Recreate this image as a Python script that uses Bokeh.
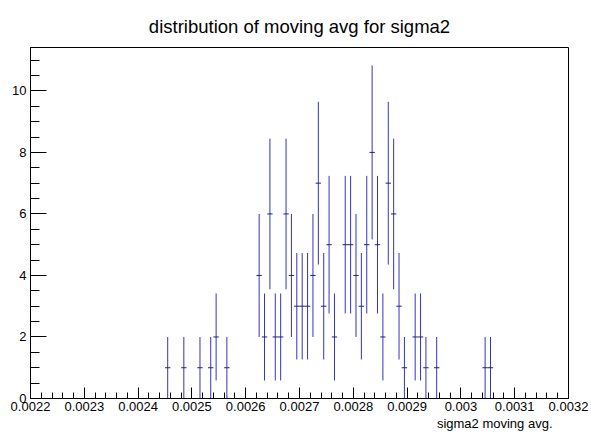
from bokeh.plotting import figure
from bokeh.models import FixedTicker, Title, Range1d, ColumnDataSource
from bokeh.embed import file_html
from bokeh.resources import INLINE
import math

# Histogram: 61 bins of width 1e-5 starting at 0.00245
bin_start = 0.00245
bin_width = 1e-5
counts = [1, 0, 0, 1, 0, 0, 1, 0, 1, 2,
          0, 1, 0, 0, 0, 0, 0, 4, 2, 6,
          2, 2, 6, 4, 3, 3, 3, 4, 7, 3,
          5, 2, 0, 5, 5, 4, 3, 5, 8, 5,
          2, 7, 6, 3, 1, 0, 2, 2, 1, 0,
          1, 0, 0, 0, 0, 0, 0, 0, 0, 1,
          1]

x_ticks = [0.0022, 0.0023, 0.0024, 0.0025, 0.0026, 0.0027, 0.0028, 0.0029, 0.003, 0.0031, 0.0032]
x_tick_labels = ["0.0022", "0.0023", "0.0024", "0.0025", "0.0026", "0.0027", "0.0028", "0.0029", "0.003", "0.0031", "0.0032"]
y_ticks = [0, 2, 4, 6, 8, 10]

title_text = "distribution of moving avg for sigma2"
x_label_text = "sigma2 moving avg."

xc, yv, ylo, yhi, xl, xr = [], [], [], [], [], []
for i, c in enumerate(counts):
    if c <= 0:
        continue
    lo = bin_start + i * bin_width
    xc.append(lo + bin_width / 2)
    xl.append(lo)
    xr.append(lo + bin_width)
    yv.append(c)
    e = math.sqrt(c)
    ylo.append(c - e)
    yhi.append(c + e)

src = ColumnDataSource(dict(xc=xc, y=yv, ylo=ylo, yhi=yhi, xl=xl, xr=xr))

p = figure(width=591, height=432, x_range=Range1d(0.0022, 0.0032), y_range=Range1d(0, 11.41),
           output_backend="svg", toolbar_location=None,
           min_border_left=30, min_border_right=23, min_border_top=47, min_border_bottom=34)
p.title = None
p.xgrid.visible = False
p.ygrid.visible = False
p.outline_line_color = "black"
p.outline_line_width = 1
p.background_fill_color = "white"
p.border_fill_color = "white"

minor_x = [0.0022 + k * 2e-5 for k in range(51)]
minor_y = [k * 0.5 for k in range(23)]
p.xaxis.ticker = FixedTicker(ticks=x_ticks, minor_ticks=minor_x)
p.yaxis.ticker = FixedTicker(ticks=y_ticks, minor_ticks=minor_y)
p.xaxis.major_label_overrides = {t: s for t, s in zip(x_ticks, x_tick_labels)}

for ax in (p.xaxis, p.yaxis):
    ax.axis_line_color = "black"
    ax.major_tick_line_color = "black"
    ax.minor_tick_line_color = "black"
    ax.major_tick_out = 0
    ax.minor_tick_out = 0
    ax.major_label_text_font = "Liberation Sans"
    ax.major_label_text_font_size = "13px"
    ax.major_label_text_color = "black"
    ax.major_label_standoff = 4
p.xaxis.major_label_standoff = 3
p.xaxis.major_tick_in = 11
p.xaxis.minor_tick_in = 6
p.yaxis.major_tick_in = 16
p.yaxis.minor_tick_in = 9

p.segment(x0="xc", y0="ylo", x1="xc", y1="yhi", source=src, line_color="#3434c0", line_width=1)
p.segment(x0="xl", y0="y", x1="xr", y1="y", source=src, line_color="#20207a", line_width=1)

p.add_layout(Title(text=title_text, align="center", offset=-3, text_font="Liberation Sans",
                   text_font_size="18.5px", text_font_style="normal", text_color="black",
                   standoff=22), "above")
p.add_layout(Title(text=x_label_text, align="right", offset=16, text_font="Liberation Sans",
                   text_font_size="13px", text_font_style="normal", text_color="black",
                   standoff=0), "below")

open("out.html", "w").write(file_html(p, INLINE))
